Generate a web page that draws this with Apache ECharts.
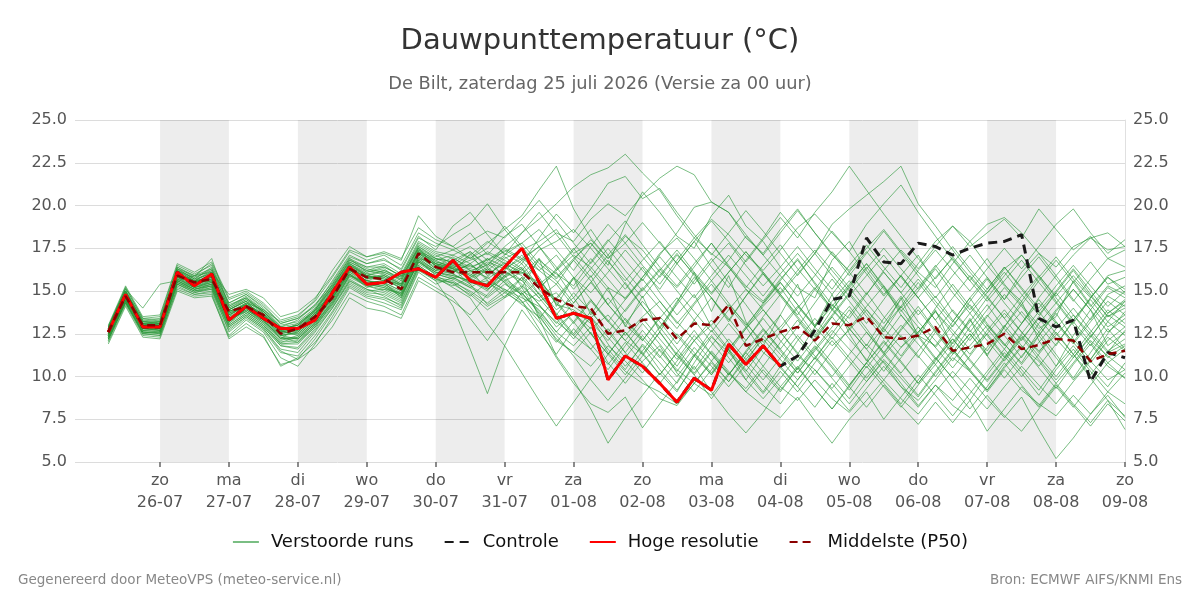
<!DOCTYPE html>
<html>
<head>
<meta charset="utf-8">
<script src="https://cdn.jsdelivr.net/npm/echarts@6/dist/echarts.min.js"></script>
<style>
  html, body { margin: 0; padding: 0; background: #fff; }
  #chart { width: 1200px; height: 600px; }
</style>
</head>
<body>
<div id="chart"></div>
<script>
// uren sinds za 25-07 00:00, stap 6 uur
var startHour = 6;
var stepHours = 6;

var tickHours = [24, 48, 72, 96, 120, 144, 168, 192, 216, 240, 264, 288, 312, 336, 360];
var tickLabels = ['zo\n26-07', 'ma\n27-07', 'di\n28-07', 'wo\n29-07', 'do\n30-07', 'vr\n31-07', 'za\n01-08',
  'zo\n02-08', 'ma\n03-08', 'di\n04-08', 'wo\n05-08', 'do\n06-08', 'vr\n07-08', 'za\n08-08', 'zo\n09-08'];
// grijze banden (om de dag)
var bandDays = [[24, 48], [72, 96], [120, 144], [168, 192], [216, 240], [264, 288], [312, 336]];

var hoogeResolutie = [12.6,14.8,12.9,12.9,16.1,15.3,16.0,13.3,14.1,13.4,12.8,12.8,13.3,14.9,16.4,15.4,15.5,16.1,16.3,15.8,
  16.8,15.6,15.3,16.4,17.5,15.5,13.4,13.7,13.4,9.8,11.2,10.6,9.6,8.5,9.9,9.2,11.9,10.7,11.8,10.6];

var controle = [12.6,14.8,12.9,12.9,16.1,15.3,16.0,13.3,14.1,13.4,12.8,12.8,13.3,14.9,16.4,15.4,15.5,16.1,16.3,15.8,
  16.8,15.6,15.3,16.4,17.5,15.5,13.4,13.7,13.4,9.8,11.2,10.6,9.6,8.5,9.9,9.2,11.9,10.7,11.8,10.6,
  11.2,12.7,14.5,14.7,18.1,16.7,16.6,17.8,17.6,17.1,17.5,17.8,17.9,18.3,13.4,12.9,13.3,9.7,11.4,11.1];

var middelste = [12.6,14.7,13.0,13.0,15.9,15.5,15.7,13.8,14.1,13.6,12.5,12.8,13.5,14.6,16.3,15.8,15.7,15.1,17.2,16.4,
  16.1,16.1,16.1,16.1,16.1,15.2,14.5,14.1,14.0,12.5,12.7,13.3,13.4,12.2,13.1,13.0,14.2,11.8,12.2,12.6,
  12.9,12.1,13.1,13.0,13.5,12.3,12.2,12.4,12.9,11.5,11.7,11.9,12.5,11.6,11.85,12.2,12.1,10.9,11.3,11.5];

var verstoordeRuns = [
  [12.8,15.0,13.1,13.0,16.2,15.6,16.1,13.5,14.3,13.9,12.9,12.6,13.6,15.1,16.6,15.9,16.2,15.8,17.5,16.4,17.0,16.2,15.8,16.9,17.4,17.9,18.6,17.2,17.8,16.5,18.9,20.8,19.6,18.2,17.5,19.4,20.6,18.8,17.9,16.4,15.2,14.6,16.8,17.9,16.2,14.8,15.9,17.1,15.4,13.8,12.6,13.9,15.2,14.1,12.8,13.5,15.6,14.2,12.9,13.6],
  [12.4,14.6,12.8,12.7,15.8,15.2,15.6,13.1,14.0,13.2,12.4,12.2,13.1,14.4,16.0,15.2,15.5,14.6,16.8,15.9,15.4,14.8,13.9,14.6,15.2,13.6,12.1,11.4,12.6,10.8,9.6,10.9,11.8,10.2,9.1,10.4,11.6,9.8,8.7,9.9,11.2,10.4,9.3,10.6,11.9,10.8,9.4,8.6,9.8,11.1,10.3,9.2,10.5,11.7,10.9,9.6,10.8,12.1,11.2,10.4],
  [12.1,14.4,12.6,12.5,15.5,15.0,15.2,12.9,13.6,12.9,11.8,11.6,12.7,14.0,15.6,15.0,15.1,14.9,16.9,16.2,16.8,17.3,16.5,17.6,18.4,19.2,20.1,21.1,21.8,22.2,23.0,21.9,20.9,19.4,18.1,17.2,16.4,15.1,14.3,15.6,16.9,15.4,13.9,12.8,14.1,15.3,13.6,12.4,11.8,13.2,14.6,13.1,11.9,10.8,12.4,13.7,12.2,11.0,12.5,13.8],
  [12.7,14.9,13.0,13.2,16.0,15.4,15.8,13.9,14.4,13.4,12.2,12.9,13.8,14.9,16.4,15.7,15.9,15.3,17.4,16.8,16.3,15.4,14.2,14.9,15.8,13.4,11.2,9.8,8.1,6.1,7.6,8.9,10.2,9.1,10.8,12.3,11.4,12.8,13.9,12.6,11.3,12.9,14.2,13.1,11.8,13.4,14.7,13.2,12.1,10.9,12.3,13.6,12.4,11.1,12.6,11.3,9.9,11.4,12.8,11.6],
  [12.5,14.7,13.2,13.1,16.3,15.7,16.4,14.2,14.6,13.7,12.6,13.1,13.9,15.4,16.9,16.1,16.4,15.9,17.8,17.2,16.9,16.4,16.8,17.5,16.9,16.2,17.1,15.8,14.9,16.1,17.4,16.2,15.1,16.6,17.9,16.4,15.2,16.8,18.1,19.6,18.4,17.2,18.9,19.8,20.6,21.4,22.3,20.1,18.8,17.4,16.1,14.9,16.3,17.1,15.8,14.4,13.1,14.6,15.8,14.9],
  [12.3,14.5,12.9,12.9,15.7,15.3,15.5,13.4,13.8,13.1,12.0,12.3,13.2,14.6,16.1,15.4,15.2,14.8,16.6,16.0,15.7,16.2,15.1,15.9,16.4,15.1,13.9,14.6,13.2,12.1,13.4,12.2,11.1,12.5,11.4,10.2,11.6,10.4,9.1,10.6,9.4,8.2,9.6,8.4,9.7,10.9,9.6,8.3,9.5,8.6,9.9,8.7,7.6,8.8,6.9,5.2,6.4,7.8,8.9,7.6],
  [12.9,15.1,13.3,13.4,16.4,15.9,16.6,14.5,14.9,14.2,13.1,13.4,14.1,15.6,17.1,16.6,16.9,16.2,18.1,17.6,18.3,18.9,20.1,18.6,17.4,16.2,15.4,16.8,15.6,14.2,15.5,14.1,12.8,14.4,15.8,14.6,13.2,14.7,16.1,14.8,13.6,15.1,16.4,15.2,13.9,12.6,14.1,15.5,14.2,12.9,14.4,15.7,14.3,13.1,14.6,15.9,14.5,13.3,14.8,15.3],
  [12.2,14.3,12.5,12.6,15.4,14.9,15.1,12.6,13.4,12.7,11.4,11.2,12.4,13.8,15.4,14.8,14.6,14.2,16.3,15.6,14.1,11.6,9.0,11.8,13.9,12.6,11.3,12.8,11.6,10.4,11.8,13.1,11.9,10.6,12.1,13.3,12.0,10.8,12.4,13.6,12.2,11.0,12.5,13.9,12.6,11.3,12.8,14.1,12.7,11.4,12.9,14.2,12.8,11.6,13.1,14.3,13.0,11.8,13.2,14.4],
  [12.6,14.8,13.0,12.8,16.1,15.5,15.9,13.6,14.2,13.5,12.7,12.4,13.3,14.7,16.2,15.9,15.6,15.4,17.3,16.6,16.4,16.8,17.2,16.6,16.1,15.4,16.2,17.1,16.4,15.2,14.6,15.8,17.2,18.1,16.9,15.6,16.8,18.2,17.1,15.9,14.7,15.9,17.3,16.1,14.8,16.2,17.4,16.3,17.6,18.8,17.9,18.9,19.3,18.4,17.2,15.9,17.1,18.1,17.4,17.6],
  [12.4,14.6,12.7,12.8,15.6,15.1,15.4,13.2,13.9,13.3,12.3,12.0,13.0,14.2,15.9,15.5,15.3,14.7,16.7,16.1,15.9,15.6,15.1,15.8,16.3,14.8,13.6,12.4,13.5,11.9,10.6,11.8,10.4,9.2,10.6,9.1,7.8,6.7,7.9,9.4,10.6,9.3,8.1,9.5,10.8,9.6,8.4,9.8,11.1,9.9,8.6,10.1,11.4,10.2,8.9,10.4,11.6,10.3,9.1,10.2],
  [12.7,14.9,13.1,13.1,15.9,15.6,15.8,13.7,14.1,13.6,12.5,12.7,13.6,14.8,16.5,16.0,15.8,15.1,17.1,16.3,16.0,17.2,15.9,16.7,15.2,16.9,14.1,15.8,13.6,15.2,12.9,14.7,12.6,14.3,16.1,13.8,15.9,13.2,11.8,13.6,15.4,12.9,14.8,12.5,10.9,12.8,14.6,12.3,13.9,11.7,13.4,11.2,12.9,14.4,12.1,10.6,12.4,13.9,11.8,12.6],
  [12.8,15.0,13.2,13.3,16.2,15.8,16.2,14.0,14.5,13.8,12.8,13.0,13.9,15.2,16.8,16.3,16.1,15.7,17.6,17.0,17.4,16.9,17.8,18.6,19.4,20.9,22.3,19.8,18.1,16.9,18.2,17.4,16.1,15.2,16.4,17.8,16.5,15.3,14.4,15.7,16.8,15.5,14.2,13.4,14.8,16.1,14.9,13.6,14.7,13.3,12.1,13.5,14.8,13.6,12.4,13.8,15.1,13.9,12.6,13.4],
  [12.0,14.2,12.4,12.3,15.2,14.8,14.9,12.4,13.3,12.6,11.1,10.6,11.9,13.5,15.2,14.6,14.3,13.9,16.1,15.4,15.8,15.2,14.6,15.4,14.8,13.9,12.6,11.8,12.9,11.6,10.4,11.9,10.8,9.6,11.2,12.4,11.1,9.8,11.3,12.6,11.4,10.1,11.5,12.8,11.6,10.3,11.7,12.9,11.7,10.5,11.8,13.0,11.9,10.7,12.0,13.2,12.0,10.8,12.1,12.9],
  [12.6,14.7,12.9,13.0,16.0,15.4,15.9,13.8,14.2,13.7,12.6,12.8,13.7,14.9,16.4,15.7,16.0,15.5,17.3,16.9,16.7,16.2,16.5,17.4,16.8,17.6,18.4,17.9,19.2,20.1,19.4,20.6,21.6,22.3,21.8,20.2,19.6,18.1,17.2,18.6,19.8,18.4,17.1,16.2,17.5,18.6,17.3,16.1,15.2,16.6,17.9,16.5,15.3,14.4,15.8,17.0,15.7,14.6,15.9,16.2],
  [12.5,14.6,12.8,12.9,15.8,15.3,15.6,13.5,14.0,13.4,12.4,12.5,13.4,14.5,16.2,15.6,15.4,14.9,16.9,16.2,16.0,15.4,15.6,15.1,14.6,14.1,13.2,12.4,11.6,12.8,11.4,10.2,11.6,10.4,9.6,8.9,10.2,9.1,8.3,7.6,8.8,7.4,6.1,7.5,8.6,9.8,8.7,7.8,9.1,10.3,9.2,8.1,9.4,10.6,9.5,8.4,9.7,10.9,9.8,10.4],
  [12.9,15.2,13.4,13.5,16.5,16.0,16.5,14.3,14.8,14.0,13.0,13.2,14.0,15.4,16.9,16.4,16.6,16.0,17.9,17.3,17.1,17.6,16.8,17.3,17.8,16.6,15.8,16.9,17.8,16.7,15.6,16.8,17.9,16.6,15.4,16.7,17.8,16.5,15.3,16.4,17.6,16.3,15.1,16.5,17.7,16.4,15.2,16.6,17.9,18.8,17.6,18.4,19.2,18.1,19.8,18.6,17.4,18.2,16.9,17.4],
  [12.3,14.4,12.7,12.6,15.5,15.1,15.3,13.0,13.7,13.0,11.9,11.9,12.9,14.3,15.8,15.3,15.0,14.5,16.5,15.8,15.6,14.9,14.1,14.7,15.3,14.2,12.9,13.7,12.5,11.3,12.6,11.4,10.1,11.4,12.7,11.3,10.1,11.5,12.8,11.6,10.4,11.7,10.5,9.2,10.6,9.4,8.2,9.5,10.7,9.3,8.1,9.4,10.8,9.5,8.3,9.6,8.4,7.3,8.6,6.9],
  [12.7,14.8,13.1,13.0,16.1,15.5,16.0,13.7,14.3,13.6,12.7,12.9,13.7,15.0,16.6,16.1,16.3,15.6,17.5,16.7,16.5,16.1,16.7,16.3,16.9,17.6,16.4,15.1,16.3,17.5,16.2,15.0,16.2,17.4,16.1,14.9,16.1,17.3,16.0,14.8,16.0,17.2,15.9,14.7,15.9,17.1,15.8,14.6,15.8,16.9,15.6,14.4,15.6,16.8,15.5,14.3,15.5,16.7,15.4,15.8],
  [12.4,14.5,12.8,12.8,15.7,15.2,15.5,13.3,13.9,13.2,12.1,12.4,13.3,14.6,16.0,15.3,15.5,15.0,17.0,16.4,16.2,15.8,16.3,15.5,14.4,12.8,11.1,9.6,8.4,7.9,8.8,7.0,8.4,9.7,11.2,10.1,11.6,12.9,11.4,10.6,12.1,13.4,12.2,13.6,14.9,13.5,12.3,11.1,12.6,13.9,12.7,11.5,12.9,14.2,13.0,11.8,13.3,14.5,13.2,12.4],
  [12.6,14.8,12.9,13.1,16.0,15.6,15.8,13.9,14.4,13.8,12.9,13.3,14.2,15.3,16.7,16.2,16.0,15.4,17.2,16.8,17.1,16.6,17.3,16.8,16.2,17.4,17.9,18.6,17.5,16.3,15.1,16.4,14.9,13.6,14.8,12.9,11.6,12.8,14.1,15.2,13.8,12.4,13.9,15.3,16.6,15.2,13.9,12.5,14.0,15.4,14.1,12.8,11.6,13.1,14.5,13.2,12.0,13.4,14.7,14.1],
  [12.2,14.3,12.6,12.5,15.4,14.9,15.2,12.8,13.5,12.8,11.6,11.4,12.6,14.0,15.5,14.9,14.8,14.3,16.4,15.7,15.3,15.8,16.4,15.6,16.1,15.5,14.3,13.1,14.4,13.2,12.1,11.3,12.6,11.2,10.1,11.4,10.2,9.3,10.6,9.4,8.6,9.8,8.7,7.9,9.1,7.5,8.8,10.1,8.9,7.7,9.0,10.3,11.6,10.4,9.2,10.6,11.8,10.5,9.4,10.8],
  [12.8,15.0,13.2,13.2,16.3,15.7,16.3,14.1,14.7,13.9,12.9,13.1,13.9,15.3,16.8,16.4,16.4,15.9,17.7,17.1,16.6,17.3,16.4,17.1,17.8,18.6,17.4,16.2,17.6,18.9,17.8,16.5,15.4,16.8,18.1,19.2,18.3,17.1,16.2,17.4,18.7,19.5,18.4,17.3,18.9,20.1,21.2,19.6,18.2,16.8,15.6,16.9,15.4,14.2,15.6,16.8,15.5,14.1,15.3,14.8],
  [12.5,14.7,13.0,12.9,15.9,15.4,15.7,13.6,14.1,13.5,12.4,12.6,13.5,14.7,16.3,15.8,15.6,15.2,17.1,16.5,16.3,16.0,15.2,16.1,15.6,14.6,15.4,14.1,13.4,14.6,13.3,12.1,13.5,12.4,11.2,12.7,11.5,10.3,11.7,10.5,9.4,10.8,12.1,10.9,9.7,11.0,9.9,8.8,10.2,11.5,10.3,9.1,10.4,9.2,8.4,7.7,8.9,7.8,9.1,8.4],
  [13.0,15.3,13.5,13.6,16.6,16.1,16.7,14.6,15.0,14.3,13.3,13.6,14.4,15.8,17.3,16.8,17.1,16.5,18.4,17.8,17.4,17.9,18.5,18.1,19.2,20.3,19.1,17.8,16.6,17.9,19.1,17.7,16.4,15.3,16.6,17.8,16.4,15.2,16.5,17.7,16.3,15.1,13.9,15.2,16.4,15.1,13.8,15.0,16.3,14.9,13.7,14.9,16.1,14.8,13.6,14.9,16.2,14.8,13.5,14.2],
  [12.3,14.5,12.7,12.7,15.6,15.1,15.3,13.1,13.8,13.1,12.0,12.1,13.0,14.4,15.9,15.3,15.1,14.6,16.7,16.0,15.7,15.2,15.8,15.0,14.2,13.5,12.2,11.4,10.6,11.8,10.9,9.8,8.7,8.3,9.6,10.8,9.7,11.2,12.4,11.3,10.2,11.5,12.7,11.6,10.5,11.8,13.0,11.9,10.7,12.0,13.3,12.1,10.9,12.2,13.4,12.2,11.1,12.3,13.6,12.9],
  [12.6,14.8,13.0,13.0,15.9,15.5,15.8,13.8,14.2,13.6,12.6,12.8,13.6,14.8,16.4,15.9,15.7,15.2,17.2,16.5,16.1,16.6,15.7,16.4,15.9,14.8,13.6,14.9,13.8,12.6,13.9,15.2,14.0,12.8,14.2,15.4,14.1,12.9,14.3,15.5,14.2,13.0,14.4,15.6,14.3,13.1,14.5,15.7,14.4,13.2,14.6,15.8,14.5,16.1,17.2,16.4,17.6,18.1,18.4,17.6],
  [12.4,14.6,12.8,12.8,15.7,15.2,15.5,13.2,14.0,13.3,12.2,12.3,13.2,14.6,16.1,15.6,15.4,14.8,16.8,16.2,16.4,15.9,16.9,15.8,16.6,15.2,16.1,14.6,15.9,14.2,13.1,14.4,13.2,11.9,13.3,14.6,13.4,12.1,13.5,14.8,13.5,12.3,13.6,14.9,13.7,12.4,11.2,12.6,13.8,12.5,11.3,12.7,13.9,12.6,11.4,12.8,14.0,12.7,11.5,12.2],
  [12.7,14.9,13.1,13.2,16.1,15.6,16.1,13.9,14.4,13.7,12.8,13.0,13.8,15.1,16.5,15.9,16.1,15.6,17.4,16.6,16.3,15.7,16.2,15.5,14.8,15.6,14.4,13.2,14.5,13.3,12.1,13.4,12.2,11.0,12.4,11.3,10.1,11.4,10.2,9.1,10.5,11.8,10.6,9.4,10.8,12.0,10.8,9.6,11.0,12.2,11.0,9.8,11.1,12.4,11.2,10.0,11.3,9.9,8.6,7.7],
  [12.5,14.7,12.9,13.0,15.9,15.4,15.7,13.7,14.1,13.5,12.5,12.7,13.6,14.8,16.3,15.8,15.8,15.3,17.2,16.5,16.2,16.5,16.0,16.6,16.0,16.9,15.7,16.8,18.0,16.9,17.8,19.0,17.8,16.6,17.9,19.1,17.9,16.7,18.0,19.3,18.1,19.6,20.8,22.3,20.9,19.5,18.2,16.9,15.7,17.0,15.8,14.6,15.9,17.1,15.9,14.7,15.9,14.7,13.5,14.0],
  [12.1,14.3,12.5,12.4,15.3,14.8,15.0,12.7,13.5,12.8,11.5,11.0,12.2,13.7,15.3,14.7,14.5,14.0,16.2,15.6,15.5,14.7,15.5,14.9,14.3,14.9,13.7,12.5,13.8,12.6,11.4,12.7,11.5,10.3,11.7,10.6,9.4,10.7,9.5,8.4,9.8,11.1,9.9,8.7,10.1,11.3,10.1,8.9,10.3,11.6,10.4,9.2,10.6,11.8,10.5,9.3,10.7,11.9,10.6,9.9],
  [12.9,15.1,14.0,15.4,15.6,15.9,16.1,14.8,15.1,14.6,13.5,13.8,14.6,15.9,17.4,17.0,17.3,16.9,18.7,18.0,17.6,16.9,17.5,18.8,17.6,16.4,15.6,14.3,15.5,16.8,15.4,14.1,12.9,14.2,15.6,16.9,15.5,14.2,12.8,11.6,12.9,14.3,15.7,14.4,13.1,14.5,15.9,14.6,13.3,11.9,13.2,14.6,13.4,12.1,13.5,14.9,13.6,12.3,13.7,14.5],
  [11.9,14.1,12.3,12.2,15.0,14.6,14.7,12.3,13.1,12.4,10.6,11.1,12.0,13.3,14.9,14.4,14.1,13.6,15.8,15.2,14.6,13.4,12.1,13.6,14.9,13.7,12.4,11.2,9.8,8.6,9.9,11.2,12.6,11.3,10.1,8.7,10.1,11.4,12.7,11.5,10.2,11.6,12.9,14.1,12.8,11.4,12.7,13.9,12.6,11.3,12.5,11.2,9.9,11.2,12.4,11.1,9.8,11.0,12.3,11.5],
  [12.6,14.9,13.0,12.9,16.4,15.8,16.9,14.1,14.6,13.9,13.2,13.5,14.5,16.2,17.6,17.0,17.2,16.8,19.4,18.2,17.6,18.4,17.1,18.2,18.9,17.6,16.2,17.4,18.6,17.1,15.8,14.6,15.9,17.2,15.9,14.6,13.3,14.7,16.0,14.7,13.4,12.1,13.5,14.8,13.5,12.2,13.6,12.3,11.0,12.4,13.7,12.4,11.1,12.5,13.8,12.5,11.3,12.6,13.9,13.1],
  [12.5,14.6,13.1,12.8,15.8,15.5,15.6,13.4,14.2,13.5,12.6,12.5,13.4,14.6,16.2,15.6,15.9,15.4,16.9,16.6,16.0,15.5,16.3,15.7,15.0,14.4,14.9,13.7,12.8,13.6,12.4,13.5,14.4,13.2,12.1,13.0,14.2,13.1,12.0,12.9,14.1,12.9,11.8,12.7,13.9,12.8,11.7,12.6,13.8,12.7,11.6,12.5,13.7,12.6,11.5,12.4,13.6,12.5,11.4,11.9],
  [12.8,15.0,13.3,13.2,16.2,15.6,16.2,14.0,14.6,13.8,12.7,13.0,13.9,15.2,16.7,16.2,16.5,15.8,17.6,16.9,16.5,17.1,17.9,17.2,16.6,18.1,19.5,18.4,19.8,21.3,21.7,20.4,21.0,19.6,18.3,17.1,18.4,19.7,18.5,17.2,15.9,17.2,18.5,17.3,16.0,14.7,15.9,14.6,13.3,14.6,15.9,14.7,13.4,14.7,15.9,14.6,13.3,14.6,15.8,15.1],
  [12.3,14.4,12.6,12.6,15.5,15.0,15.3,13.0,13.7,13.0,11.9,12.0,12.9,14.2,15.7,15.1,14.9,14.4,16.5,15.8,15.2,14.6,13.1,11.8,10.2,8.6,7.1,8.5,9.9,11.3,10.1,11.5,12.9,11.6,10.4,11.8,13.1,11.9,10.6,12.0,13.3,12.0,10.8,9.5,10.8,12.1,10.9,9.6,10.9,12.2,10.9,9.7,11.0,12.3,11.0,9.8,11.1,12.4,11.1,11.8],
  [12.2,14.4,12.5,12.4,15.1,14.7,14.8,12.2,12.9,12.3,10.7,11.0,11.7,12.9,14.6,14.0,13.8,13.4,15.6,15.0,14.4,13.6,14.8,15.9,14.7,13.4,14.6,15.8,14.5,13.2,14.5,15.7,14.4,13.1,14.3,15.6,14.3,13.0,14.2,15.5,14.2,12.9,14.1,15.4,16.6,15.3,14.0,15.2,16.5,15.2,13.9,15.1,16.4,15.1,13.8,15.0,16.3,15.0,13.7,14.4],
  [12.7,14.8,13.0,13.1,16.0,15.5,15.9,13.8,14.3,13.6,12.7,12.8,13.7,14.9,16.5,15.9,15.7,15.3,17.3,16.7,16.4,15.9,16.6,15.9,16.8,15.6,14.5,15.7,16.9,15.7,14.5,15.8,17.0,15.8,14.6,15.9,17.1,15.9,14.7,16.0,17.2,16.0,14.8,16.1,17.3,16.1,14.9,16.2,17.4,16.2,15.0,16.3,17.5,16.3,17.6,18.9,19.8,18.4,17.2,18.0],
  [12.4,14.5,12.9,12.7,15.6,15.2,15.4,13.3,13.8,13.2,12.2,12.2,13.1,14.3,15.9,15.4,15.2,14.7,16.7,16.1,15.8,15.3,14.7,15.6,14.9,13.8,12.6,13.8,12.5,11.3,12.6,11.3,10.1,11.4,10.2,11.5,10.3,9.1,10.4,9.2,10.5,9.3,8.1,9.4,8.2,9.5,8.3,7.2,8.5,7.3,8.6,6.8,8.1,9.4,8.2,9.5,8.3,7.1,8.4,7.4],
  [12.6,14.8,12.9,13.0,16.0,15.3,15.9,13.4,14.0,13.4,12.8,12.7,13.4,14.8,16.3,15.5,15.6,15.9,16.2,15.8,16.6,15.7,15.4,16.2,17.1,15.8,14.2,13.9,13.1,11.4,10.3,9.6,9.1,8.4,9.6,10.9,12.2,11.0,9.8,11.1,12.4,11.2,10.0,11.3,12.6,11.4,10.2,11.5,12.8,11.6,10.4,11.7,13.0,11.8,10.6,11.9,13.2,12.0,10.8,11.6],
  [12.8,15.0,13.2,13.1,16.2,15.7,16.0,13.9,14.5,13.8,12.8,13.0,13.8,15.2,16.6,16.0,16.2,15.7,17.5,16.9,16.7,16.3,16.9,16.4,15.6,16.8,16.0,15.3,16.7,18.0,16.8,15.6,17.1,18.4,19.9,20.2,19.6,18.3,17.1,18.4,19.7,18.4,17.2,15.9,17.2,18.5,17.2,15.9,14.6,15.9,17.1,15.8,14.5,15.8,17.0,15.7,14.4,15.7,16.9,16.4],
  [12.3,14.5,12.8,12.7,15.6,15.1,15.4,13.3,13.9,13.3,12.3,12.2,13.1,14.5,16.0,15.4,15.3,14.8,16.8,16.1,15.9,15.6,15.0,16.2,15.4,14.2,13.1,14.3,15.5,14.2,13.0,12.1,13.4,14.6,13.3,12.0,10.8,12.1,13.4,12.1,10.9,12.2,13.5,12.2,11.0,9.8,11.1,12.4,11.1,9.9,11.2,12.5,11.2,10.0,11.3,12.6,11.3,10.1,11.4,12.7],
  [12.9,15.2,13.4,13.3,16.3,15.9,16.3,14.3,14.8,14.1,13.1,13.4,14.2,15.5,17.0,16.6,16.8,16.3,18.2,17.4,18.8,19.6,18.3,17.1,18.4,19.6,18.3,17.0,15.8,17.1,18.3,17.0,15.8,17.1,16.0,14.8,16.1,17.3,16.1,14.9,16.2,17.4,16.2,15.0,16.3,17.5,16.3,15.1,16.4,17.6,16.3,15.1,16.4,15.2,14.0,15.3,16.5,15.3,14.1,15.0],
  [12.5,14.7,12.9,12.9,15.8,15.4,15.6,13.6,14.1,13.5,12.4,12.6,13.5,14.7,16.2,15.6,15.5,15.0,17.0,16.3,16.1,16.6,15.6,14.6,15.8,14.6,13.4,12.2,13.5,12.3,11.1,12.4,11.2,10.0,11.3,10.1,11.4,10.2,9.0,10.3,9.1,10.4,9.2,8.0,9.3,10.6,9.4,8.2,9.5,8.3,7.6,8.9,7.7,6.8,8.1,9.4,8.2,9.5,10.8,9.9],
  [12.6,14.8,13.0,13.0,16.0,15.6,15.7,13.8,14.2,13.6,12.6,12.8,13.6,14.9,16.4,15.8,15.9,15.4,17.2,16.6,16.3,17.0,16.2,17.0,16.3,15.1,16.3,17.5,16.2,15.0,13.8,15.1,16.3,15.0,13.8,12.6,13.9,15.1,13.9,12.7,14.0,15.2,14.0,12.8,11.6,12.9,14.1,12.9,11.7,13.0,14.2,13.0,11.8,13.1,14.3,13.1,11.9,13.2,14.4,13.6],
  [12.2,14.4,12.6,12.6,15.4,15.0,15.1,12.9,13.6,12.9,11.8,11.7,12.8,14.1,15.6,15.1,14.7,14.1,16.4,15.7,15.5,15.0,14.3,15.1,14.4,13.2,12.0,13.2,11.9,10.7,12.0,10.8,9.6,10.9,12.1,10.9,9.7,11.0,12.2,11.0,9.8,11.1,12.3,11.1,9.9,11.2,12.4,11.2,10.0,11.3,12.5,11.3,12.6,13.8,12.6,13.9,15.1,13.9,15.2,14.6]
];

function toPoints(values) {
  return values.map(function (v, i) { return [startHour + stepHours * i, v]; });
}

var chart = echarts.init(document.getElementById('chart'));

var series = [{
  type: 'line',
  data: [],
  z: 1,
  silent: true,
  markArea: {
    silent: true,
    itemStyle: { color: 'rgba(0,0,0,0.072)' },
    data: bandDays.map(function (b) { return [{ xAxis: b[0] }, { xAxis: b[1] }]; })
  }
}];

var runColor = 'rgba(40,150,55,0.62)';
verstoordeRuns.forEach(function (run) {
  series.push({
    name: 'Verstoorde runs',
    type: 'line',
    data: toPoints(run),
    showSymbol: false,
    symbol: 'none',
    silent: true,
    z: 2,
    lineStyle: { width: 1, color: runColor },
    itemStyle: { color: runColor }
  });
});

series.push({
  name: 'Controle',
  type: 'line',
  data: toPoints(controle),
  symbol: 'none',
  z: 3,
  lineStyle: { width: 3, color: '#1a1a1a', type: [9, 6] },
  itemStyle: { color: '#1a1a1a' }
});
series.push({
  name: 'Hoge resolutie',
  type: 'line',
  data: toPoints(hoogeResolutie),
  symbol: 'none',
  z: 4,
  lineStyle: { width: 3, color: '#ff0000' },
  itemStyle: { color: '#ff0000' }
});
series.push({
  name: 'Middelste (P50)',
  type: 'line',
  data: toPoints(middelste),
  symbol: 'none',
  z: 5,
  lineStyle: { width: 2.5, color: '#8b0000', type: [8, 5] },
  itemStyle: { color: '#8b0000' }
});

var yLabel = {
  fontSize: 16,
  color: '#555',
  fontFamily: 'DejaVu Sans',
  formatter: function (v) { return v.toFixed(1); }
};

var option = {
  animation: false,
  textStyle: { fontFamily: 'DejaVu Sans' },
  title: [{
    text: 'Dauwpunttemperatuur (°C)',
    left: 'center',
    top: 22,
    textStyle: { fontSize: 29, fontWeight: 'normal', color: '#333', fontFamily: 'DejaVu Sans' }
  }, {
    text: 'De Bilt, zaterdag 25 juli 2026 (Versie za 00 uur)',
    left: 'center',
    top: 70,
    textStyle: { fontSize: 17.8, fontWeight: 'normal', color: '#666', fontFamily: 'DejaVu Sans' }
  }, {
    text: 'Gegenereerd door MeteoVPS (meteo-service.nl)',
    left: 13,
    top: 568,
    textStyle: { fontSize: 13.5, fontWeight: 'normal', color: '#888', fontFamily: 'DejaVu Sans' }
  }, {
    text: 'Bron: ECMWF AIFS/KNMI Ens',
    right: 13,
    top: 568,
    textStyle: { fontSize: 13.5, fontWeight: 'normal', color: '#888', fontFamily: 'DejaVu Sans' }
  }],
  legend: {
    top: 528,
    left: 'center',
    itemWidth: 26,
    itemHeight: 14,
    itemGap: 30,
    itemStyle: { opacity: 0 },
    data: ['Verstoorde runs', 'Controle', 'Hoge resolutie', 'Middelste (P50)'],
    textStyle: { fontSize: 18, color: '#111', fontFamily: 'DejaVu Sans', padding: [0, 0, 0, 7] }
  },
  grid: { left: 75, right: 75, top: 120, bottom: 138 },
  xAxis: {
    type: 'value',
    min: -5.6,
    max: 360,
    axisLine: { show: false },
    splitLine: { show: false },
    axisTick: { show: true, length: 5, customValues: tickHours, lineStyle: { color: '#666', width: 1.5 } },
    axisLabel: {
      customValues: tickHours,
      fontSize: 16,
      lineHeight: 22,
      color: '#555',
      margin: 8,
      formatter: function (v) {
        var i = tickHours.indexOf(v);
        return i >= 0 ? tickLabels[i] : '';
      }
    }
  },
  yAxis: [{
    type: 'value',
    min: 5,
    max: 25,
    interval: 2.5,
    axisLine: { show: false },
    axisTick: { show: false },
    axisLabel: yLabel,
    splitLine: { lineStyle: { color: '#dcdcdc', width: 1 } }
  }, {
    type: 'value',
    position: 'right',
    min: 5,
    max: 25,
    interval: 2.5,
    axisLine: { show: true, lineStyle: { color: '#e0e0e0' } },
    axisTick: { show: false },
    axisLabel: yLabel,
    splitLine: { show: false }
  }],
  series: series
};

chart.setOption(option);
</script>
</body>
</html>
